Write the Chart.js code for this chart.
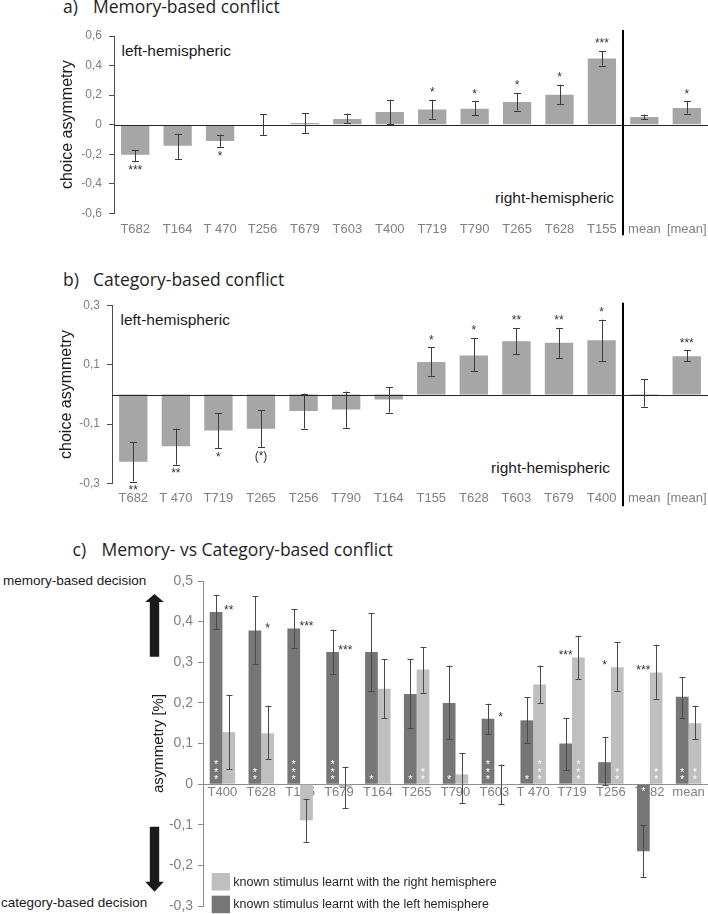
<!DOCTYPE html>
<html><head><meta charset="utf-8">
<script src="https://cdn.jsdelivr.net/npm/chart.js@4.4.1/dist/chart.umd.min.js"></script>
<style>
html,body{margin:0;padding:0;background:#fff;}
body{width:708px;height:914px;position:relative;overflow:hidden;font-family:'Liberation Sans',Arial,sans-serif;}
canvas{position:absolute;left:0;}
.t{position:absolute;white-space:nowrap;line-height:1;color:#1a1a1a;}
.ttl{font-family:'Open Sans',sans-serif;font-size:17.5px;color:#1f1f1f;}
.hemi{font-size:15.5px;}
.dec{font-size:13.5px;}
</style></head><body>
<div class="t ttl" style="left:63px;top:-2.2px">a)</div>
<div class="t ttl" style="left:93px;top:-2.2px">Memory-based conflict</div>
<div class="t ttl" style="left:63px;top:270.5px">b)</div>
<div class="t ttl" style="left:93px;top:270.5px">Category-based conflict</div>
<div class="t ttl" style="left:72.5px;top:540.5px">c)</div>
<div class="t ttl" style="left:101.5px;top:540.5px">Memory- vs Category-based conflict</div>
<div class="t hemi" style="left:121.5px;top:42.9px">left-hemispheric</div>
<div class="t hemi" style="right:94px;top:189.6px">right-hemispheric</div>
<div class="t hemi" style="left:120.5px;top:312.2px">left-hemispheric</div>
<div class="t hemi" style="right:98px;top:460.2px">right-hemispheric</div>
<div class="t dec" style="left:3px;top:574.3px">memory-based decision</div>
<div class="t dec" style="left:1px;top:895.9px">category-based decision</div>
<canvas id="ca" width="708" height="215" style="top:25px"></canvas>
<canvas id="cb" width="708" height="215" style="top:293px"></canvas>
<canvas id="cc" width="708" height="344" style="top:570px"></canvas>
<script>
// ---------- data ----------
const aCategories = ['T682','T164','T 470','T256','T679','T603','T400','T719','T790','T265','T628','T155','mean','[mean]'];
const aValues  = [-0.203,-0.142,-0.111,0.000,0.011,0.038,0.086,0.102,0.108,0.154,0.203,0.447,0.052,0.113];
const aErrLow  = [-0.246,-0.233,-0.149,-0.070,-0.056,0.014,0.005,0.041,0.063,0.095,0.138,0.400,0.038,0.075];
const aErrHigh = [-0.170,-0.061,-0.068,0.072,0.079,0.075,0.169,0.169,0.158,0.215,0.271,0.499,0.068,0.158];
const aStars   = ['***','','*','','','','','*','*','*','*','***','','*'];
const aTicks = [-0.6,-0.4,-0.2,0,0.2,0.4,0.6];
const aTickLabels = ['-0,6','-0,4','-0,2','0','0,2','0,4','0,6'];

const bCategories = ['T682','T 470','T719','T265','T256','T790','T164','T155','T628','T603','T679','T400','mean','[mean]'];
const bValues  = [-0.227,-0.175,-0.122,-0.116,-0.056,-0.051,-0.017,0.110,0.132,0.180,0.175,0.183,0.002,0.129];
const bErrLow  = [-0.294,-0.237,-0.180,-0.177,-0.115,-0.112,-0.061,0.063,0.078,0.136,0.122,0.114,-0.041,0.112];
const bErrHigh = [-0.160,-0.115,-0.064,-0.052,0.003,0.010,0.024,0.159,0.191,0.225,0.225,0.253,0.052,0.149];
const bStars   = ['**','**','*','(*)','','','','*','*','**','**','*','','***'];
const bTicks = [-0.3,-0.1,0.1,0.3];
const bTickLabels = ['-0,3','-0,1','0,1','0,3'];

const cCategories = ['T400','T628','T155','T679','T164','T265','T790','T603','T 470','T719','T256','T682','mean'];
const cSeries = ['known stimulus learnt with the left hemisphere','known stimulus learnt with the right hemisphere'];
const cLeft      = [0.424,0.378,0.383,0.325,0.325,0.222,0.200,0.161,0.157,0.100,0.054,-0.165,0.215];
const cLeftLow   = [0.381,0.296,0.336,0.270,0.230,0.139,0.111,0.123,0.101,0.034,-0.003,-0.229,0.164];
const cLeftHigh  = [0.466,0.462,0.430,0.380,0.421,0.307,0.292,0.198,0.214,0.162,0.115,-0.100,0.263];
const cRight     = [0.128,0.125,-0.089,-0.007,0.235,0.282,0.024,-0.003,0.245,0.312,0.288,0.275,0.150];
const cRightLow  = [0.037,0.061,-0.142,-0.060,0.162,0.225,-0.047,-0.050,0.200,0.258,0.230,0.210,0.110];
const cRightHigh = [0.220,0.193,-0.036,0.043,0.307,0.338,0.076,0.048,0.292,0.365,0.349,0.343,0.193];
const cDiffStars   = ['**','*','***','***','','','','*','','***','*','***',''];
const cLeftInner   = ['***','**','***','***','*','*','*','***','*','','','*','**'];
const cRightInner  = ['','','','','','**','','','***','***','**','**','**'];
const cTicks = [-0.3,-0.2,-0.1,0,0.1,0.2,0.3,0.4,0.5];
const cTickLabels = ['-0,3','-0,2','-0,1','0','0,1','0,2','0,3','0,4','0,5'];

// ---------- helpers ----------
const FONT = "'Liberation Sans', Arial, sans-serif";
function starText(ctx, txt, x, cy, size, color){
  ctx.save();
  ctx.font = size + 'px ' + FONT;
  ctx.fillStyle = color; ctx.textAlign = 'center'; ctx.textBaseline = 'alphabetic';
  const off = txt.indexOf('(') >= 0 ? 0.26*size : 0.57*size;
  ctx.fillText(txt, x, cy + off);
  ctx.restore();
}
function errBar(ctx, x, y1, y2, hw){
  const xl = Math.round(x) + 0.5;
  ctx.beginPath();
  ctx.moveTo(xl, y1); ctx.lineTo(xl, y2);
  ctx.moveTo(xl-hw, Math.round(y1)+0.5); ctx.lineTo(xl+hw, Math.round(y1)+0.5);
  ctx.moveTo(xl-hw, Math.round(y2)+0.5); ctx.lineTo(xl+hw, Math.round(y2)+0.5);
  ctx.stroke();
}
function yScale(o){
  return {
    min:o.min, max:o.max,
    afterBuildTicks: s => { s.ticks = o.ticks.map(v => ({value:v})); },
    afterFit: s => { s.width = o.width; s.paddingTop = 0; s.paddingBottom = 0; },
    ticks:{callback:(v,i)=>o.labels[i], color:'#808080', font:{family:FONT,size:o.fs}, padding:o.pad, autoSkip:false},
    grid:{drawOnChartArea:false, drawTicks:true, tickLength:5, color:o.color, lineWidth:1},
    border:{display:true, color:o.color, width:1},
    title:{display:true, text:o.title, color:'#1a1a1a', font:{family:FONT,size:o.tfs}, padding:{top:o.tpad,bottom:0}}
  };
}
function xScale(o){
  const s = {
    grid:{display:false, drawTicks:false},
    border:{display:false},
    ticks:{color:'#808080', font:{family:FONT,size:13}, padding:o.pad, autoSkip:false, maxRotation:0, minRotation:0},
    afterFit: sc => { if (o.height!=null) sc.height = o.height; sc.paddingLeft = 0; sc.paddingRight = 0; }
  };
  return s;
}
function panelPlugin(cfg){
  return {
    id:'ann',
    afterDatasetsDraw(chart){
      const ctx = chart.ctx, ca = chart.chartArea, y = chart.scales.y, x = chart.scales.x;
      const meta = chart.getDatasetMeta(0);
      ctx.save();
      const y0 = Math.round(y.getPixelForValue(0)) + 0.5;
      ctx.strokeStyle = '#262626'; ctx.lineWidth = 1.2;
      ctx.beginPath(); ctx.moveTo(ca.left, y0); ctx.lineTo(ca.right, y0); ctx.stroke();
      ctx.strokeStyle = '#3c3c3c'; ctx.lineWidth = 1;
      meta.data.forEach((el, i) => {
        const yl = y.getPixelForValue(cfg.low[i]), yh = y.getPixelForValue(cfg.high[i]);
        errBar(ctx, el.x, yl, yh, 3.5);
        const s = cfg.stars[i];
        if (s) {
          if (cfg.values[i] >= 0) starText(ctx, s, el.x, yh - 10.5, 12, '#333');
          else starText(ctx, s, el.x, yl + (s.indexOf('(')>=0 ? 10 : 6), 12, '#333');
        }
      });
      const xd = Math.round((x.getPixelForValue(11) + x.getPixelForValue(12)) / 2);
      ctx.strokeStyle = '#000'; ctx.lineWidth = 2;
      ctx.beginPath(); ctx.moveTo(xd, ca.top - cfg.divTop); ctx.lineTo(xd, ca.bottom + cfg.divBot); ctx.stroke();
      ctx.restore();
    }
  };
}

// ---------- panel a ----------
new Chart(document.getElementById('ca'), {
  type:'bar',
  data:{labels:aCategories, datasets:[{data:aValues, backgroundColor:'#a6a6a6', borderWidth:0, categoryPercentage:1, barPercentage:0.667}]},
  options:{
    responsive:false, animation:false, events:[],
    layout:{padding:{top:11,right:0,bottom:0,left:0}},
    plugins:{legend:{display:false}, tooltip:{enabled:false}},
    scales:{
      x: xScale({pad:7.9, height:26.7}),
      y: yScale({min:-0.6,max:0.6,ticks:aTicks,labels:aTickLabels,width:114,fs:12,pad:7,color:'#4d4d4d',title:'choice asymmetry',tfs:16,tpad:58})
    }
  },
  plugins:[panelPlugin({values:aValues, low:aErrLow, high:aErrHigh, stars:aStars, divTop:6, divBot:22})]
});

// ---------- panel b ----------
new Chart(document.getElementById('cb'), {
  type:'bar',
  data:{labels:bCategories, datasets:[{data:bValues, backgroundColor:'#a6a6a6', borderWidth:0, categoryPercentage:1, barPercentage:0.667}]},
  options:{
    responsive:false, animation:false, events:[],
    layout:{padding:{top:12.7,right:0,bottom:0,left:0}},
    plugins:{legend:{display:false}, tooltip:{enabled:false}},
    scales:{
      x: xScale({pad:6.9, height:24.7}),
      y: yScale({min:-0.3,max:0.3,ticks:bTicks,labels:bTickLabels,width:112,fs:12,pad:7,color:'#4d4d4d',title:'choice asymmetry',tfs:16,tpad:57})
    }
  },
  plugins:[panelPlugin({values:bValues, low:bErrLow, high:bErrHigh, stars:bStars, divTop:3, divBot:23})]
});

// ---------- panel c ----------
const cPlugin = {
  id:'annc',
  afterDatasetsDraw(chart){
    const ctx = chart.ctx, y = chart.scales.y;
    const m0 = chart.getDatasetMeta(0), m1 = chart.getDatasetMeta(1);
    const y0 = y.getPixelForValue(0);
    const inner = [cLeftInner, cRightInner], vals = [cLeft, cRight];
    [m0, m1].forEach((m, d) => {
      m.data.forEach((el, i) => {
        const s = inner[d][i];
        for (let k = 0; k < s.length; k++) {
          const cy = vals[d][i] >= 0 ? y0 - 7.3 - k*7.3 : y0 + 5 + k*7.3;
          starText(ctx, '*', el.x, cy, 11, '#ffffff');
        }
      });
    });
  },
  afterDraw(chart){
    const ctx = chart.ctx, y = chart.scales.y;
    const m0 = chart.getDatasetMeta(0), m1 = chart.getDatasetMeta(1);
    ctx.save();
    ctx.strokeStyle = '#4a4a4a'; ctx.lineWidth = 1;
    m0.data.forEach((el, i) => errBar(ctx, el.x, y.getPixelForValue(cLeftLow[i]), y.getPixelForValue(cLeftHigh[i]), 3));
    m1.data.forEach((el, i) => errBar(ctx, el.x, y.getPixelForValue(cRightLow[i]), y.getPixelForValue(cRightHigh[i]), 3));
    cDiffStars.forEach((s, i) => {
      if (!s) return;
      if (cLeft[i] >= cRight[i]) starText(ctx, s, m1.data[i].x, y.getPixelForValue(cLeft[i]) - 5, 12, '#333');
      else starText(ctx, s, m0.data[i].x, y.getPixelForValue(cRight[i]) - 5, 12, '#333');
    });
    // legend (light first, then dark)
    const ds = chart.data.datasets;
    const rows = [[ds[1], 303, 315.7], [ds[0], 325.7, 337.7]];
    ctx.font = '12.5px ' + FONT; ctx.textAlign = 'left'; ctx.textBaseline = 'alphabetic';
    rows.forEach(([d, top, base]) => {
      ctx.fillStyle = d.backgroundColor; ctx.fillRect(211.7, top, 18.3, 17.5);
      ctx.fillStyle = '#262626'; ctx.fillText(d.label, 233.3, base);
    });
    // arrows
    ctx.fillStyle = '#1a1a1a';
    const ax = 154.5;
    ctx.beginPath();
    ctx.moveTo(ax, 24); ctx.lineTo(ax+9.3, 32); ctx.lineTo(ax+4.7, 32); ctx.lineTo(ax+4.7, 86.7);
    ctx.lineTo(ax-4.7, 86.7); ctx.lineTo(ax-4.7, 32); ctx.lineTo(ax-9.3, 32); ctx.closePath(); ctx.fill();
    ctx.beginPath();
    ctx.moveTo(ax-4.7, 256.7); ctx.lineTo(ax+4.7, 256.7); ctx.lineTo(ax+4.7, 311.7); ctx.lineTo(ax+9.3, 311.7);
    ctx.lineTo(ax, 321.7); ctx.lineTo(ax-9.3, 311.7); ctx.lineTo(ax-4.7, 311.7); ctx.closePath(); ctx.fill();
    ctx.restore();
  }
};
const cx = xScale({pad:0, height:null});
cx.position = {y:0};
cx.z = 1;
cx.border = {display:true, color:'#8c8c8c', width:1};
new Chart(document.getElementById('cc'), {
  type:'bar',
  data:{labels:cCategories, datasets:[
    {label:cSeries[0], data:cLeft, backgroundColor:'#767676', borderWidth:0, categoryPercentage:0.655, barPercentage:1},
    {label:cSeries[1], data:cRight, backgroundColor:'#bfbfbf', borderWidth:0, categoryPercentage:0.655, barPercentage:1}
  ]},
  options:{
    responsive:false, animation:false, events:[],
    layout:{padding:{top:11,right:0,bottom:8,left:0}},
    plugins:{legend:{display:false}, tooltip:{enabled:false}},
    scales:{
      x: cx,
      y: yScale({min:-0.3,max:0.5,ticks:cTicks,labels:cTickLabels,width:203,fs:14,pad:5,color:'#8c8c8c',title:'asymmetry [%]',tfs:15,tpad:150})
    }
  },
  plugins:[cPlugin]
});
</script>
</body></html>
